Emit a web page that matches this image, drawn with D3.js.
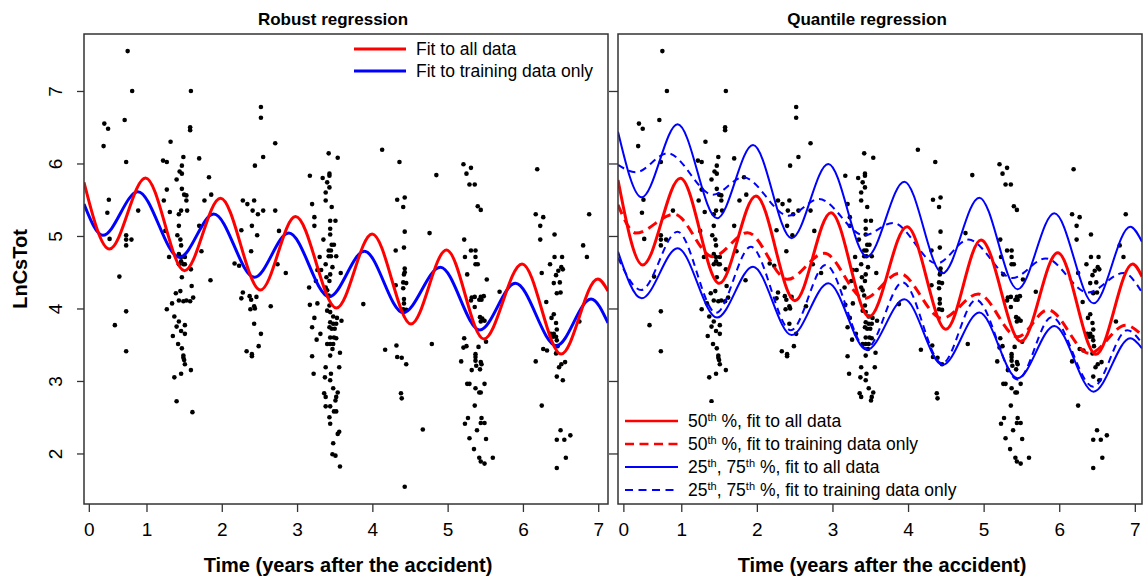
<!DOCTYPE html>
<html>
<head>
<meta charset="utf-8">
<script src="https://cdn.jsdelivr.net/npm/d3@7"></script>
<style>
  body { margin: 0; background: #fff; }
  svg { display: block; }
  text { font-family: "Liberation Sans", Arial, Helvetica, sans-serif; fill: #000; }
</style>
</head>
<body>
<svg id="chart" width="1146" height="577"></svg>
<script>
// ---- data: [time in years, LnCsTot] ----
var observations = [
  [0.75,7.55],[0.81,7.00],[1.59,7.00],[0.44,6.55],[0.49,6.48],[0.71,6.60],[1.58,6.50],[1.58,6.46],[0.43,6.24],[1.32,6.30],
  [0.73,6.02],[1.22,6.04],[1.27,6.02],[1.49,6.09],[1.70,6.07],[1.47,5.97],[1.44,5.89],[1.47,5.86],[1.40,5.78],[1.83,5.81],
  [2.44,5.97],[1.27,5.64],[1.47,5.65],[1.50,5.57],[1.53,5.56],[1.86,5.57],[0.50,5.50],[1.23,5.49],[1.53,5.49],[1.77,5.49],
  [2.28,5.49],[2.34,5.44],[2.43,5.49],[0.48,5.32],[0.89,5.35],[1.31,5.33],[1.43,5.30],[1.46,5.35],[1.54,5.35],[2.41,5.35],
  [2.48,5.30],[1.70,5.14],[1.43,5.14],[1.25,5.07],[2.40,5.14],[2.26,5.08],[0.73,5.01],[0.73,4.95],[0.80,4.95],[0.73,4.87],
  [0.51,4.96],[1.41,5.01],[1.45,4.95],[1.46,4.87],[2.47,5.01],[1.73,4.79],[2.39,4.79],[1.30,4.71],[1.43,4.75],[1.46,4.71],
  [1.51,4.71],[1.43,4.61],[1.49,4.61],[1.51,4.61],[1.46,4.65],[1.59,4.54],[2.17,4.62],[2.23,4.59],[1.85,4.39],[1.47,4.43],
  [0.64,4.44],[1.60,4.31],[1.39,4.21],[1.45,4.24],[2.28,4.22],[2.26,4.14],[2.37,4.17],[2.39,4.12],[2.46,4.16],[2.38,3.99],
  [2.43,4.03],[2.44,4.00],[1.34,4.07],[1.27,3.99],[1.43,4.11],[1.49,4.10],[1.53,4.11],[1.58,4.10],[1.62,4.15],[0.73,3.96],
  [1.37,3.89],[1.43,3.82],[1.51,3.77],[1.40,3.75],[1.46,3.69],[1.51,3.65],[1.35,3.62],[2.43,3.79],[0.58,3.77],[1.42,3.51],
  [1.47,3.45],[1.49,3.35],[1.49,3.32],[1.50,3.29],[1.51,3.23],[1.59,3.15],[1.46,3.10],[1.37,3.05],[0.73,3.41],[2.33,3.41],
  [2.40,3.37],[2.40,3.34],[2.49,3.48],[1.40,2.72],[1.61,2.57],
  [2.52,6.78],[2.52,6.63],[2.71,6.28],[2.55,6.09],[2.55,5.35],[2.71,5.35],[2.52,3.65],[2.76,5.07],[2.74,4.61],[2.85,4.49],
  [2.65,4.03],[3.17,5.83],[3.20,5.44],[3.23,5.26],[3.23,5.14],[3.35,4.95],[3.30,4.71],[3.27,4.53],[3.42,6.14],[3.54,6.08],
  [3.43,5.86],[3.43,5.83],[3.34,5.80],[3.40,5.74],[3.43,5.67],[3.38,5.60],[3.38,5.49],[3.46,5.40],[3.44,5.21],[3.51,5.21],
  [3.44,5.10],[3.44,5.02],[3.46,4.88],[3.49,4.88],[3.42,4.80],[3.45,4.80],[3.42,4.72],[3.45,4.72],[3.52,4.72],[3.38,4.61],
  [3.47,4.57],[3.32,4.53],[3.58,4.49],[3.25,4.38],[3.39,4.43],[3.43,4.38],[3.44,4.47],[3.16,4.29],[3.38,4.29],[3.40,4.25],
  [3.42,4.18],[3.17,4.05],[3.27,4.07],[3.43,4.04],[3.40,3.97],[3.44,3.95],[3.23,3.87],[3.48,3.89],[3.53,3.87],[3.59,3.83],
  [3.44,3.81],[3.48,3.79],[3.52,3.79],[3.20,3.74],[3.43,3.74],[3.46,3.72],[3.50,3.72],[3.31,3.65],[3.44,3.60],[3.49,3.60],
  [3.52,3.59],[3.26,3.57],[3.40,3.51],[3.44,3.51],[3.48,3.51],[3.47,3.44],[3.57,3.39],[3.20,3.34],[3.44,3.35],[3.56,3.19],
  [3.38,3.19],[3.22,3.10],[3.37,3.05],[3.44,3.01],[3.45,3.10],[3.48,2.90],[3.54,2.84],[3.36,2.83],[3.52,2.78],[3.38,2.78],
  [3.51,2.73],[3.38,2.65],[3.44,2.65],[3.49,2.58],[3.52,2.58],[3.43,2.50],[3.44,2.41],[3.56,2.30],[3.54,2.27],[3.48,2.14],
  [3.47,1.99],[3.51,1.97],[3.57,1.82],[4.13,6.19],[4.36,6.02],[4.33,5.50],[4.43,5.53],[4.41,5.40],[4.43,5.06],[4.31,4.80],
  [4.42,4.84],[4.76,5.04],[4.43,4.55],[4.43,4.50],[4.42,4.47],[4.41,4.36],[4.45,4.35],[4.31,4.32],[4.41,4.28],[4.42,4.13],
  [4.42,4.07],[4.41,3.99],[4.45,3.98],[3.88,4.06],[4.85,5.84],[4.17,3.43],[4.32,3.49],[4.33,3.33],[4.39,3.32],[4.45,3.23],
  [4.38,2.83],[4.39,2.76],[4.67,2.33],[4.79,3.51],[4.43,1.54],
  [5.21,5.99],[5.25,5.86],[5.31,5.94],[5.29,5.71],[5.36,5.71],[5.40,5.41],[5.44,5.36],[5.22,4.95],[5.23,4.71],[5.31,4.80],
  [5.37,4.80],[5.37,4.71],[5.37,4.61],[5.40,4.61],[5.26,4.47],[5.52,4.40],[5.69,4.23],[5.32,4.15],[5.36,4.16],[5.44,4.16],
  [5.48,4.17],[5.31,4.11],[5.42,4.12],[5.45,4.12],[5.36,4.02],[5.43,3.88],[5.46,3.86],[5.49,3.83],[5.44,3.82],[5.51,3.54],
  [5.22,3.59],[5.25,3.48],[5.21,3.46],[5.41,3.47],[5.18,3.27],[5.37,3.37],[5.37,3.33],[5.37,3.28],[5.38,3.21],[5.44,3.26],
  [5.45,3.23],[5.43,3.16],[5.32,3.15],[5.26,2.96],[5.29,2.96],[5.49,2.96],[5.37,2.90],[5.44,2.84],[5.42,2.84],[5.36,2.66],
  [5.23,2.41],[5.27,2.49],[5.45,2.49],[5.44,2.42],[5.49,2.42],[5.39,2.32],[5.29,2.21],[5.51,2.20],[5.35,2.06],[5.42,1.94],
  [5.44,1.89],[5.49,1.86],[5.60,1.94],[6.19,5.92],[6.17,5.30],[6.27,5.26],[6.23,5.14],[6.23,4.95],[6.42,5.02],[6.80,4.87],
  [6.85,4.71],[6.36,4.61],[6.42,4.71],[6.52,4.71],[6.51,4.57],[6.47,4.52],[6.53,4.54],[6.44,4.46],[6.25,4.49],[6.41,4.35],
  [6.49,4.36],[6.45,4.21],[6.50,4.22],[6.31,4.09],[6.41,3.92],[6.38,3.87],[6.44,3.80],[6.45,3.71],[6.37,3.65],[6.41,3.65],
  [6.40,3.61],[6.44,3.61],[6.45,3.56],[6.46,3.48],[6.27,3.44],[6.32,3.42],[6.44,3.38],[6.17,3.27],[6.56,3.26],[6.51,3.23],
  [6.48,3.19],[6.45,3.06],[6.53,3.01],[6.25,2.66],[6.50,2.32],[6.45,2.19],[6.55,2.19],[6.63,2.25],[6.57,1.94],[6.45,1.80],
  [6.88,5.30],[6.75,3.82]
];

// fitted curves, read at the panel edges and at each crest / trough
var robustAll = [[0.17,5.74],[0.509,4.82],[0.987,5.80],[1.505,4.52],[1.983,5.52],[2.514,4.255],[2.979,5.267],[3.524,4.007],
  [3.997,5.028],[4.514,3.786],[4.984,4.807],[5.480,3.579],[5.989,4.614],[6.507,3.372],[6.994,4.407],[7.13,4.24]];
var robustTrain = [[0.17,5.44],[0.420,5.009],[0.885,5.611],[1.438,4.706],[1.894,5.303],[2.434,4.430],[2.890,5.041],[3.426,4.163],
  [3.895,4.789],[4.409,3.942],[4.904,4.568],[5.427,3.703],[5.900,4.347],[6.445,3.487],[6.905,4.131],[7.13,3.80]];

var q50All = [[0.163,5.772],[0.489,4.600],[0.988,5.795],[1.503,4.347],[1.988,5.552],[2.504,4.108],[2.980,5.322],[3.487,3.887],
  [3.986,5.129],[4.502,3.713],[4.965,4.945],[5.495,3.543],[5.980,4.770],[6.487,3.368],[6.971,4.614],[7.095,4.44]];
var q75All = [[0.163,6.439],[0.476,5.533],[0.952,6.540],[1.473,5.244],[1.949,6.255],[2.460,4.968],[2.945,5.993],[3.456,4.715],
  [3.951,5.749],[4.457,4.485],[4.943,5.529],[5.450,4.264],[5.935,5.313],[6.455,4.071],[6.940,5.129],[7.095,4.92]];
var q25All = [[0.163,4.784],[0.476,4.140],[0.952,4.830],[1.473,3.874],[1.949,4.577],[2.460,3.634],[2.945,4.347],[3.456,3.428],
  [3.951,4.126],[4.457,3.221],[4.943,3.943],[5.450,3.037],[5.935,3.759],[6.455,2.853],[6.940,3.589],[7.095,3.45]];
var q50Train = [[0.163,5.43],[0.40,5.04],[0.908,5.30],[1.416,4.715],[1.878,5.046],[2.407,4.402],[2.892,4.761],[3.421,4.140],
  [3.885,4.485],[4.45,3.864],[4.93,4.20],[5.45,3.61],[5.85,3.98],[6.40,3.38],[6.88,3.77],[7.095,3.63]];
var q75Train = [[0.163,5.98],[0.40,5.88],[0.82,6.14],[1.42,5.57],[1.82,5.81],[2.42,5.28],[2.82,5.51],[3.42,5.01],
  [3.80,5.18],[4.38,4.62],[4.80,4.95],[5.38,4.42],[5.82,4.69],[6.38,4.22],[6.85,4.49],[7.095,4.22]];
var q25Train = [[0.163,4.70],[0.47,4.255],[0.95,5.06],[1.46,3.94],[1.92,4.85],[2.45,3.70],[2.91,4.60],[3.45,3.45],
  [3.93,4.36],[4.45,3.24],[4.90,4.12],[5.45,3.02],[5.90,3.88],[6.45,2.92],[6.90,3.70],[7.095,3.52]];

// axis ticks (the "0" tick sits a little right of t = 0 in the original)
var xTickAt = [0.234, 1, 2, 3, 4, 5, 6, 7];
var xTickLabels = ["0", "1", "2", "3", "4", "5", "6", "7"];
var yTicks = [2, 3, 4, 5, 6, 7];

var RED = "#ff0000", BLUE = "#0000ff", FRAME = "#333";

var svg = d3.select("#chart");
var top0 = 34, bottom0 = 504;

var y = d3.scaleLinear().domain([1.303, 7.786]).range([bottom0, top0]);

function drawPanel(id, x0, x1, xDomain, title, showYLabels, curves) {
    var x = d3.scaleLinear().domain(xDomain).range([x0, x1]);
    var g = svg.append("g").attr("class", "panel " + id);

    g.append("clipPath").attr("id", "clip-" + id)
        .append("rect")
        .attr("x", x0).attr("y", top0)
        .attr("width", x1 - x0).attr("height", bottom0 - top0);

    var plot = g.append("g").attr("clip-path", "url(#clip-" + id + ")");

    plot.selectAll("circle")
        .data(observations)
        .enter()
        .append("circle")
            .attr("cx", function(d) { return x(d[0]); })
            .attr("cy", function(d) { return y(d[1]); })
            .attr("r", 2.3)
            .attr("fill", "#000");

    var line = d3.line()
        .x(function(d) { return x(d[0]); })
        .y(function(d) { return y(d[1]); })
        .curve(d3.curveMonotoneX);

    curves.forEach(function(c) {
        plot.append("path")
            .attr("d", line(c.data))
            .attr("fill", "none")
            .attr("stroke", c.color)
            .attr("stroke-width", c.width)
            .attr("stroke-dasharray", c.dash || null);
    });

    // x axis
    var xa = g.append("g")
        .attr("transform", "translate(0," + bottom0 + ")")
        .call(d3.axisBottom(x)
            .tickValues(xTickAt)
            .tickFormat(function(_, i) { return xTickLabels[i]; })
            .tickSize(8)
            .tickPadding(11));
    xa.select(".domain").remove();
    xa.selectAll("line").attr("stroke", FRAME).attr("stroke-width", 1.3);
    xa.selectAll("text").attr("font-size", 19).attr("font-family", null);

    // y axis
    var ya = g.append("g")
        .attr("transform", "translate(" + x0 + ",0)")
        .call(d3.axisLeft(y)
            .tickValues(yTicks)
            .tickSize(showYLabels ? 7 : 9)
            .tickFormat(showYLabels ? d3.format("d") : function() { return ""; }));
    ya.select(".domain").remove();
    ya.selectAll("line").attr("stroke", FRAME).attr("stroke-width", 1.3);
    ya.selectAll("text")
        .attr("font-size", 19)
        .attr("font-family", null)
        .attr("transform", "rotate(-90)")
        .attr("x", 0)
        .attr("y", -22)
        .attr("dy", null)
        .style("text-anchor", "middle");

    svg.append("text")
        .attr("x", (x0 + x1) / 2 - 13)
        .attr("y", 25)
        .attr("text-anchor", "middle")
        .attr("font-size", 17)
        .attr("font-weight", "bold")
        .text(title);

    svg.append("text")
        .attr("x", (x0 + x1) / 2 + 2)
        .attr("y", 572)
        .attr("text-anchor", "middle")
        .attr("font-size", 20)
        .attr("font-weight", "bold")
        .text("Time (years after the accident)");

    return g;
}

function drawFrame(g, x0, x1) {
    g.append("rect")
        .attr("x", x0).attr("y", top0)
        .attr("width", x1 - x0).attr("height", bottom0 - top0)
        .attr("fill", "none")
        .attr("stroke", FRAME)
        .attr("stroke-width", 1.5);
}

var left = drawPanel("robust", 84, 608, [0.17, 7.13], "Robust regression", true, [
    {data: robustTrain, color: BLUE, width: 3},
    {data: robustAll, color: RED, width: 3}
]);
drawFrame(left, 84, 608);

var right = drawPanel("quantile", 618, 1142, [0.163, 7.095], "Quantile regression", false, [
    {data: q75Train, color: BLUE, width: 2, dash: "7,5"},
    {data: q25Train, color: BLUE, width: 2, dash: "7,5"},
    {data: q75All, color: BLUE, width: 2},
    {data: q25All, color: BLUE, width: 2},
    {data: q50Train, color: RED, width: 3, dash: "10,6"},
    {data: q50All, color: RED, width: 3}
]);

// legend of the quantile panel sits on a white patch that hides the points
right.append("rect")
    .attr("x", 618).attr("y", 403)
    .attr("width", 352).attr("height", bottom0 - 403)
    .attr("fill", "#fff");
drawFrame(right, 618, 1142);

svg.append("text")
    .attr("transform", "translate(27,269) rotate(-90)")
    .attr("text-anchor", "middle")
    .attr("font-size", 20)
    .attr("font-weight", "bold")
    .text("LnCsTot");

// legends
var robustLegend = [
    {label: [["Fit to all data"]], color: RED, width: 3},
    {label: [["Fit to training data only"]], color: BLUE, width: 3}
];
var quantileLegend = [
    {label: [["50"], ["th", "sup"], [" %, fit to all data"]], color: RED, width: 2.5},
    {label: [["50"], ["th", "sup"], [" %, fit to training data only"]], color: RED, width: 2.5, dash: "9,5.5"},
    {label: [["25"], ["th", "sup"], [", 75"], ["th", "sup"], [" %, fit to all data"]], color: BLUE, width: 2},
    {label: [["25"], ["th", "sup"], [", 75"], ["th", "sup"], [" %, fit to training data only"]], color: BLUE, width: 2, dash: "8,5.5"}
];

function drawLegend(items, lx0, lx1, tx, ty0, step) {
    var lg = svg.append("g");
    var rows = lg.selectAll("g")
        .data(items)
        .enter()
        .append("g")
            .attr("transform", function(_, i) { return "translate(0," + (ty0 + i * step) + ")"; });

    rows.append("line")
        .attr("x1", lx0).attr("x2", lx1)
        .attr("y1", 0).attr("y2", 0)
        .attr("stroke", function(d) { return d.color; })
        .attr("stroke-width", function(d) { return d.width; })
        .attr("stroke-dasharray", function(d) { return d.dash || null; });

    rows.append("text")
        .attr("x", tx)
        .attr("y", 6)
        .attr("font-size", 17.5)
        .each(function(d) {
            var t = d3.select(this);
            d.label.forEach(function(part) {
                var s = t.append("tspan").text(part[0]);
                if (part[1] === "sup") {
                    s.attr("font-size", 11).attr("baseline-shift", "6");
                }
            });
        });
}

drawLegend(robustLegend, 354, 406, 416, 49, 22);
drawLegend(quantileLegend, 625, 678, 688, 421, 23);
</script>
</body>
</html>
